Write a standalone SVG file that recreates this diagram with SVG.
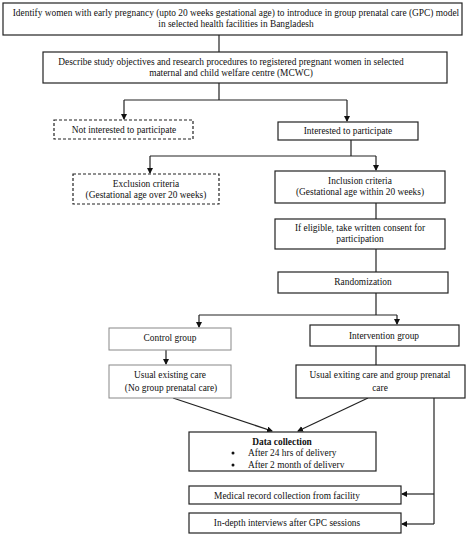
<svg xmlns="http://www.w3.org/2000/svg" width="472" height="535" viewBox="0 0 472 535">
<style>
.b{fill:#fff;stroke:#222;stroke-width:1.2}
.g{fill:#fff;stroke:#888;stroke-width:1}
.d{fill:#fff;stroke:#222;stroke-width:1.2;stroke-dasharray:3,2}
.t{font-family:"Liberation Serif","Times New Roman",serif;font-size:9.4px;fill:#111;text-anchor:middle}
.s{text-anchor:start}
.l{fill:none;stroke:#222;stroke-width:1.2}
</style>
<defs>
<marker id="a" markerWidth="6" markerHeight="6" refX="5" refY="3" orient="auto" markerUnits="userSpaceOnUse">
<path d="M0,0 L6,3 L0,6 Z" fill="#111"/>
</marker>
</defs>
<rect width="472" height="535" fill="#fff"/>
<g id="connectors">
<path class="l" d="M219,35 V52"/>
<path class="l" d="M219,83 V100 M124,100 H347"/>
<path class="l" d="M124,100 V119" marker-end="url(#a)"/>
<path class="l" d="M347,100 V121" marker-end="url(#a)"/>
<path class="l" d="M351,140 V156 M150,156 H376"/>
<path class="l" d="M150,156 V173" marker-end="url(#a)"/>
<path class="l" d="M376,156 V170" marker-end="url(#a)"/>
<path class="l" d="M376,203 V219"/>
<path class="l" d="M376,249 V272"/>
<path class="l" d="M376,293 V315 M199,315 H397"/>
<path class="l" d="M199,315 V327" marker-end="url(#a)"/>
<path class="l" d="M397,315 V324" marker-end="url(#a)"/>
<path class="l" d="M166,350 V364" marker-end="url(#a)"/>
<path class="l" d="M376,346 V365"/>
<path class="l" d="M173,398 L272,431" marker-end="url(#a)"/>
<path class="l" d="M368,398 L298,431" marker-end="url(#a)"/>
<path class="l" d="M434,398 V524"/>
<path class="l" d="M434,494 H402" marker-end="url(#a)"/>
<path class="l" d="M434,524 H402" marker-end="url(#a)"/>
</g>
<g id="n1">
<rect class="b" x="3" y="3" width="459" height="32"/>
<text class="t" x="236" y="15.5">Identify women with early pregnancy (upto 20 weeks gestational age) to introduce in group prenatal care (GPC) model</text>
<text class="t" x="236" y="26.5">in selected health facilities in Bangladesh</text>
</g>
<g id="n2">
<rect class="b" x="43" y="52" width="404" height="31"/>
<text class="t" x="231" y="65">Describe study objectives and research procedures to registered pregnant women in selected</text>
<text class="t" x="231" y="76">maternal and child welfare centre (MCWC)</text>
</g>
<g id="n3">
<rect class="d" x="54" y="120" width="139" height="19"/>
<text class="t" x="124" y="133">Not interested to participate</text>
</g>
<g id="n4">
<rect class="b" x="278" y="122" width="140" height="18"/>
<text class="t" x="348" y="134">Interested to participate</text>
</g>
<g id="n5">
<rect class="d" x="73" y="174" width="146" height="30"/>
<text class="t" x="146" y="187">Exclusion criteria</text>
<text class="t" x="146" y="198">(Gestational age over 20 weeks)</text>
</g>
<g id="n6">
<rect class="b" x="275" y="171" width="170" height="32"/>
<text class="t" x="360" y="184">Inclusion criteria</text>
<text class="t" x="360" y="195">(Gestational age within 20 weeks)</text>
</g>
<g id="n7">
<rect class="b" x="275" y="219" width="170" height="30"/>
<text class="t" x="360" y="231">If eligible, take written consent for</text>
<text class="t" x="360" y="241.5">participation</text>
</g>
<g id="n8">
<rect class="b" x="278" y="272" width="170" height="21"/>
<text class="t" x="363" y="285">Randomization</text>
</g>
<g id="n9">
<rect class="g" x="109" y="328" width="122" height="22"/>
<text class="t" x="170" y="341">Control group</text>
</g>
<g id="n10">
<rect class="b" x="310" y="325" width="149" height="21"/>
<text class="t" x="384" y="338.5">Intervention group</text>
</g>
<g id="n11">
<rect class="g" x="109" y="365" width="122" height="33"/>
<text class="t" x="170" y="378">Usual existing care</text>
<text class="t" x="171" y="391">(No group prenatal care)</text>
</g>
<g id="n12">
<rect class="b" x="296" y="365" width="169" height="33"/>
<text class="t" x="380" y="378">Usual exiting care and group prenatal</text>
<text class="t" x="380" y="391">care</text>
</g>
<g id="n13">
<rect class="b" x="189" y="432" width="187" height="39"/>
<text class="t" x="282" y="445" font-weight="bold">Data collection</text>
<circle cx="233" cy="453" r="1.5" fill="#111"/>
<circle cx="233" cy="465" r="1.5" fill="#111"/>
<text class="t s" x="248" y="456">After 24 hrs of delivery</text>
<text class="t s" x="248" y="468">After 2 month of deliverv</text>
</g>
<g id="n14">
<rect class="b" x="189" y="486" width="212" height="18"/>
<text class="t" x="287" y="498.5">Medical record collection from facility</text>
</g>
<g id="n15">
<rect class="b" x="189" y="513" width="212" height="20"/>
<text class="t" x="287" y="526">In-depth interviews after GPC sessions</text>
</g>
</svg>
